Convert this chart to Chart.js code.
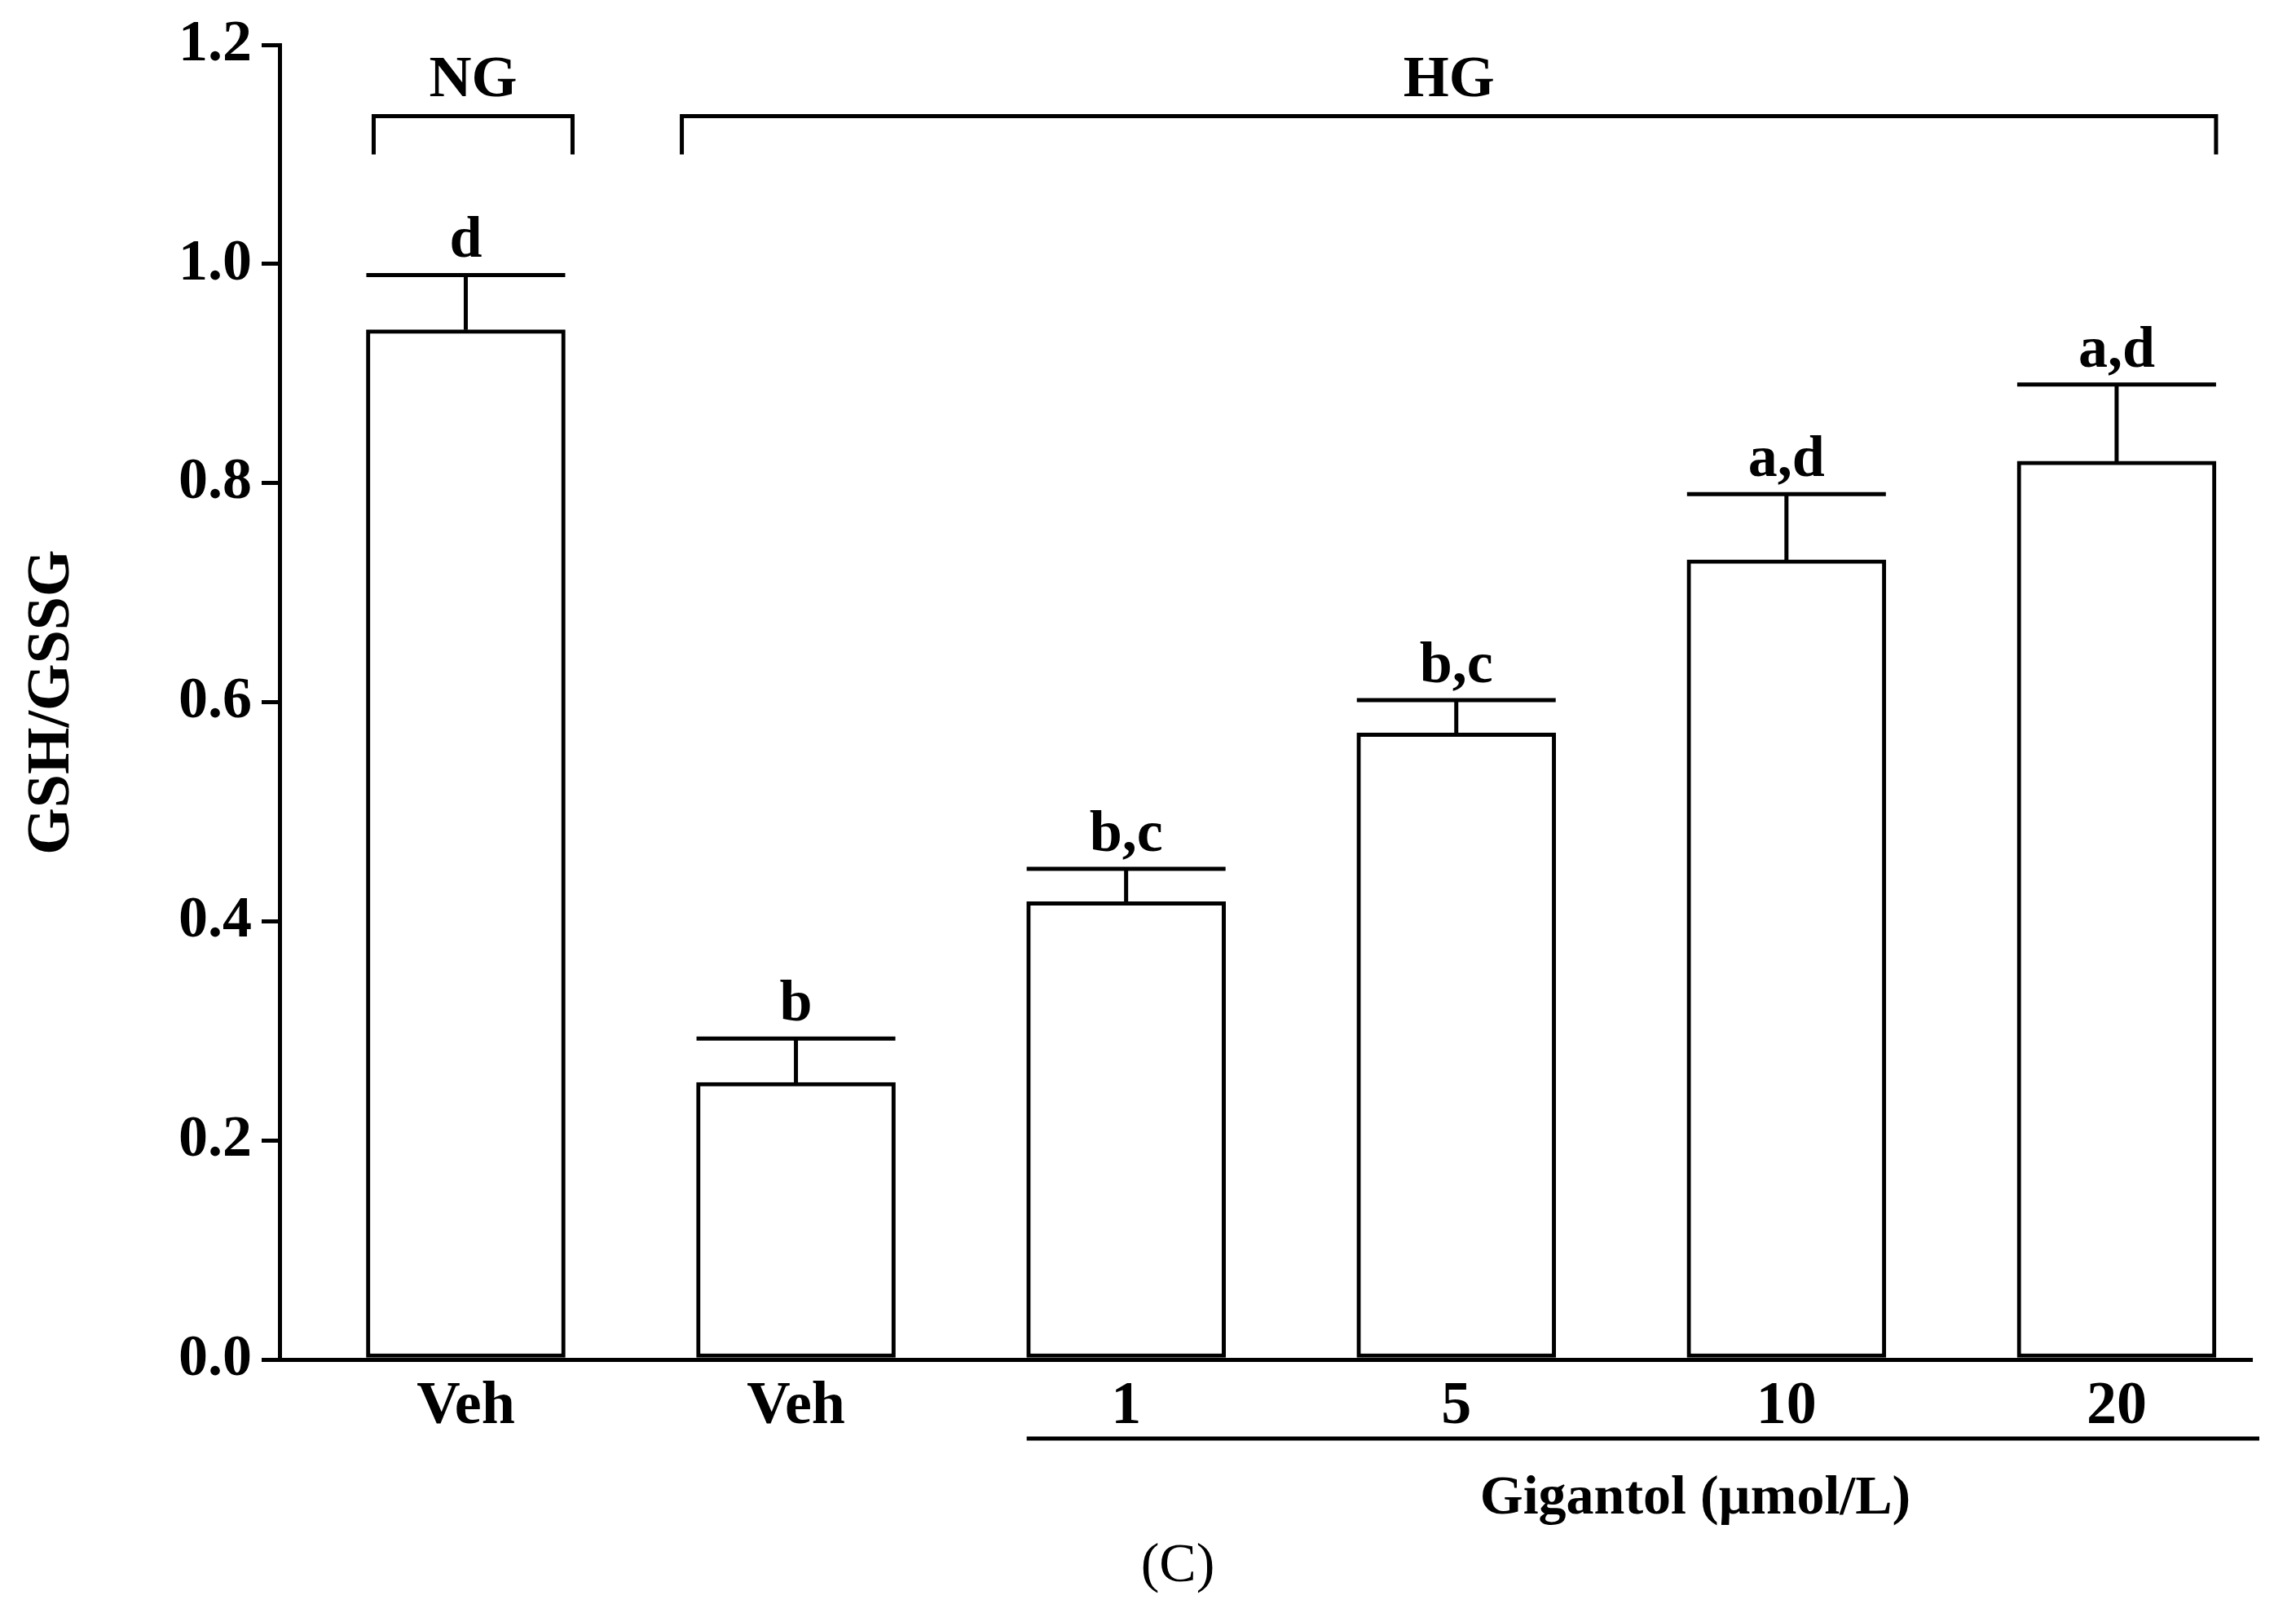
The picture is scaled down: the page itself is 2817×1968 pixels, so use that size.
<!DOCTYPE html>
<html><head><meta charset="utf-8">
<script src="https://cdn.jsdelivr.net/npm/chart.js@4"></script>
<style>body{margin:0;background:#fff}canvas{display:block}</style>
</head><body>
<canvas id="c" width="2817" height="1968"></canvas>
<script>
const categories = ['Veh', 'Veh', '1', '5', '10', '20'];
const ratioValues = [0.94, 0.253, 0.418, 0.572, 0.73, 0.82];
const errorTops = [0.99, 0.293, 0.448, 0.602, 0.79, 0.89];
const sigLetters = ['d', 'b', 'b,c', 'b,c', 'a,d', 'a,d'];
const yTicks = [0, 0.2, 0.4, 0.6, 0.8, 1.0, 1.2];

const FONT = '"Liberation Serif", "Times New Roman", serif';

// draws error bars, letters, group brackets and extra labels
const annotations = {
    id: 'annotations',
    afterDatasetsDraw(chart) {
        const c = chart.ctx, x = chart.scales.x, y = chart.scales.y;
        const meta = chart.getDatasetMeta(0);
        c.save();
        c.strokeStyle = '#000';
        c.fillStyle = '#000';
        c.lineWidth = 5;
        c.textAlign = 'center';
        meta.data.forEach((bar, i) => {
            const half = bar.width / 2;
            const top = y.getPixelForValue(errorTops[i]);
            c.beginPath();
            c.moveTo(bar.x, bar.y); c.lineTo(bar.x, top);
            c.moveTo(bar.x - half, top); c.lineTo(bar.x + half, top);
            c.stroke();
            c.font = 'bold 72px ' + FONT;
            c.textBaseline = 'alphabetic';
            c.fillText(sigLetters[i], bar.x, top - 22);
        });
        // group brackets
        const b0 = meta.data[0], b1 = meta.data[1], b5 = meta.data[5];
        const by = y.getPixelForValue(1.135), bt = y.getPixelForValue(1.1);
        function bracket(x1, x2, label) {
            c.beginPath();
            c.moveTo(x1, bt); c.lineTo(x1, by); c.lineTo(x2, by); c.lineTo(x2, bt);
            c.stroke();
            c.fillText(label, (x1 + x2) / 2, by - 25);
        }
        bracket(b0.x - b0.width / 2 + 9, b0.x + b0.width / 2 + 9, 'NG');
        bracket(b1.x - b1.width / 2 - 18, b5.x + b5.width / 2, 'HG');
        // Gigantol underline
        const ly = 1765;
        c.beginPath();
        c.moveTo(meta.data[2].x - 122, ly); c.lineTo(2772, ly);
        c.stroke();
        c.font = 'bold 68px ' + FONT;
        c.fillText('Gigantol (\u00b5mol/L)', 2080, 1857);
        c.font = '68px ' + FONT;
        c.fillText('(C)', 1445, 1940);
        // y title
        c.font = 'bold 74px ' + FONT;
        c.translate(65, (y.top + y.bottom) / 2);
        c.rotate(-Math.PI / 2);
        c.textBaseline = 'middle';
        c.fillText('GSH/GSSG', 0, 0);
        c.restore();
    }
};

new Chart(document.getElementById('c').getContext('2d'), {
    type: 'bar',
    data: {
        datasets: [{
            data: ratioValues.map((v, i) => ({ x: i, y: v })),
            backgroundColor: '#fff',
            borderColor: '#000',
            borderWidth: 5,
            borderSkipped: false,
            barThickness: 244
        }]
    },
    options: {
        responsive: false,
        animation: false,
        devicePixelRatio: 1,
        layout: { padding: { top: 54, right: 54, left: 0, bottom: 0 } },
        plugins: { legend: { display: false }, tooltip: { enabled: false } },
        scales: {
            x: {
                type: 'linear',
                min: -0.564, max: 5.41,
                offset: false,
                afterBuildTicks: s => { s.ticks = categories.map((_, i) => ({ value: i })); },
                grid: { display: false },
                border: { display: true, color: '#000', width: 5 },
                ticks: { color: '#000', font: { family: FONT, size: 74, weight: 'bold' }, padding: 6,
                         callback: v => categories[v] },
                afterFit: s => { s.height = 300; }
            },
            y: {
                min: 0, max: 1.2,
                afterBuildTicks: s => { s.ticks = yTicks.map(v => ({ value: v })); },
                grid: { drawOnChartArea: false, drawTicks: true, tickLength: 22, color: '#000', lineWidth: 5 },
                border: { display: true, color: '#000', width: 5 },
                ticks: { color: '#000', font: { family: FONT, size: 72, weight: 'bold' }, padding: 12,
                         callback: v => v.toFixed(1) },
                afterFit: s => { s.width = 343; }
            }
        }
    },
    plugins: [annotations]
});
</script>
</body></html>
